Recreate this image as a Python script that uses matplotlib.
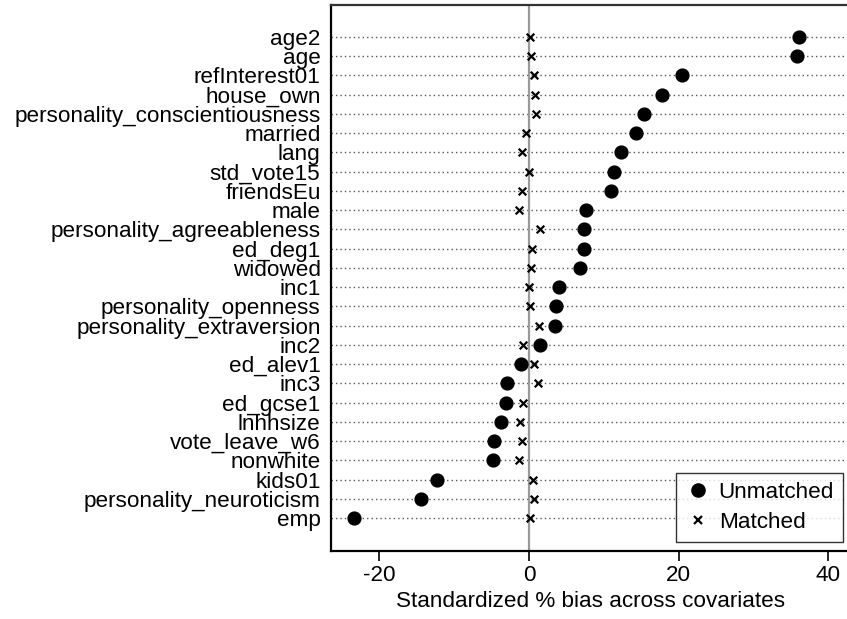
import matplotlib
matplotlib.use("Agg")
import matplotlib.pyplot as plt
from matplotlib.lines import Line2D

plt.rcParams['font.family'] = ['Liberation Sans', 'DejaVu Sans']
plt.rcParams['axes.unicode_minus'] = False

# covariates, top to bottom
covariates = [
    "age2", "age", "refInterest01", "house_own", "personality_conscientiousness",
    "married", "lang", "std_vote15", "friendsEu", "male",
    "personality_agreeableness", "ed_deg1", "widowed", "inc1",
    "personality_openness", "personality_extraversion", "inc2", "ed_alev1",
    "inc3", "ed_gcse1", "lnhhsize", "vote_leave_w6", "nonwhite", "kids01",
    "personality_neuroticism", "emp",
]
unmatched = [
    36.1, 35.8, 20.5, 17.8, 15.4,
    14.3, 12.3, 11.3, 11.0, 7.6,
    7.35, 7.3, 6.8, 3.97,
    3.6, 3.5, 1.47, -1.07,
    -3.0, -3.1, -3.8, -4.7, -4.8, -12.3,
    -14.4, -23.4,
]
matched = [
    0.13, 0.2, 0.67, 0.8, 0.98,
    -0.36, -1.0, 0.0, -1.0, -1.4,
    1.47, 0.4, 0.27, 0.0,
    0.18, 1.38, -0.8, 0.67,
    1.16, -0.76, -1.2, -0.94, -1.4, 0.58,
    0.7, 0.13,
]

n = len(covariates)
ypos = list(range(n, 0, -1))
fs = 16.2

fig = plt.figure(figsize=(8.47, 6.19), dpi=100)
ax = fig.add_axes([331 / 847, 1 - 550.7 / 619, 534.8 / 847, (550.7 - 4.7) / 619])

for y in ypos:
    ax.axhline(y, color="#555555", lw=1.0, ls=(0, (1, 2.2)), zorder=1)
ax.axvline(0, color="#999999", lw=1.6, zorder=1)

ax.scatter(unmatched, ypos, s=85, color="black", marker="o", zorder=3)
ax.scatter(matched, ypos, s=30, color="black", marker="x", linewidths=1.6, zorder=4)

ax.set_xlim(-26.47, 45)
ax.set_ylim(-0.7, n + 1.68)
ax.set_yticks(ypos)
ax.set_yticklabels(covariates, fontsize=fs)
ax.tick_params(axis="y", length=0, pad=7.5)
ax.set_xticks([-20, 0, 20, 40])
ax.tick_params(axis="x", labelsize=fs, length=7, width=1.2, pad=3)
ax.set_xlabel("Standardized % bias across covariates", fontsize=fs)
ax.xaxis.set_label_coords((591 - 331) / 534.8, (550.7 - 591) / 546)

for sp in ax.spines.values():
    sp.set_linewidth(1.6)
    sp.set_color("black")
ax.spines["top"].set_color("#333333")

handles = [
    Line2D([], [], marker="o", color="black", ls="none", markersize=9.5),
    Line2D([], [], marker="x", color="black", ls="none", markersize=6, markeredgewidth=1.6),
]
leg = ax.legend(handles, ["Unmatched", "Matched"], fontsize=fs,
                loc="lower right", bbox_to_anchor=(843 / 847, 1 - 542 / 619),
                bbox_transform=fig.transFigure, borderaxespad=0,
                frameon=True, fancybox=False, edgecolor="black",
                handletextpad=0.3, borderpad=0.4, handlelength=1.2, labelspacing=0.4)
leg.get_frame().set_linewidth(1.0)

fig.savefig("out.png", dpi=100)
